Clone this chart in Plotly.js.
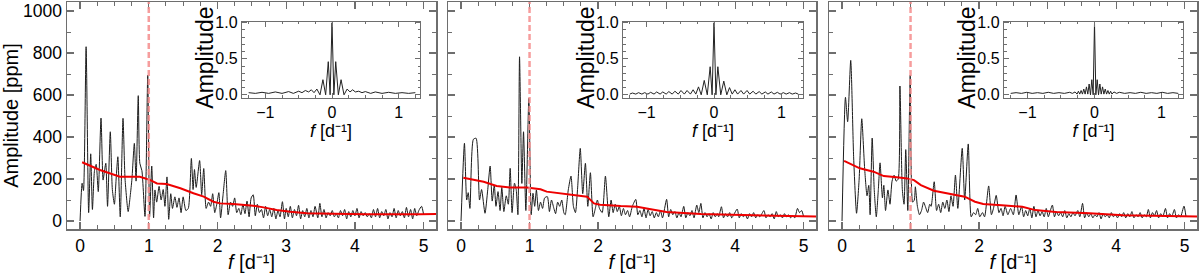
<!DOCTYPE html>
<html>
<head>
<meta charset="utf-8">
<script src="https://cdn.plot.ly/plotly-3.0.1.min.js"></script>
<style>
html,body{margin:0;padding:0;background:#fff;}
#chart{width:1200px;height:276px;}
</style>
</head>
<body>
<div id="chart"></div>
<script>
// ---------- Panel 1 : amplitude spectrum ----------
const p1_freq = [0.00,0.03,0.05,0.088,0.125,0.155,0.18,0.21,0.235,0.265,0.305,0.335,0.36,0.375,0.40,0.44,0.47,0.50,0.525,0.55,0.585,0.625,0.655,0.70,0.73,0.755,0.79,0.815,0.847,0.87,0.90,0.945,0.985,1.012,1.043,1.07,1.09,1.115,1.15,1.18,1.21,1.235,1.265,1.29,1.32,1.345,1.38,1.41,1.44,1.47,1.50,1.54,1.575,1.62,1.645,1.665,1.69,1.74,1.77,1.80,1.835,1.87,1.90,1.93,1.96,1.99,2.02,2.045,2.08,2.12,2.155,2.19,2.22,2.25,2.28,2.31,2.34,2.37,2.40,2.43,2.46,2.49,2.52,2.55,2.58,2.61,2.64,2.67,2.70,2.73,2.76,2.79,2.82,2.85,2.88,2.91,2.945,2.975,3.00,3.03,3.06,3.09,3.12,3.15,3.18,3.21,3.24,3.27,3.30,3.33,3.36,3.39,3.42,3.46,3.49,3.52,3.55,3.58,3.61,3.64,3.67,3.70,3.73,3.76,3.79,3.82,3.85,3.88,3.91,3.94,3.97,4.00,4.03,4.06,4.09,4.12,4.15,4.18,4.21,4.24,4.27,4.30,4.33,4.36,4.39,4.42,4.45,4.48,4.51,4.54,4.57,4.60,4.63,4.66,4.69,4.72,4.75,4.78,4.81,4.84,4.87,4.90,4.93,4.97,5.00];
const p1_amp  = [0,180,145,830,40,320,55,240,270,140,490,195,250,275,70,425,150,80,200,306,20,489,200,45,120,200,370,190,597,275,240,22,695,20,262,15,148,90,165,100,150,70,210,8,130,60,115,65,110,40,115,50,60,298,150,245,160,288,125,250,60,90,70,130,40,80,135,15,120,240,30,90,70,110,40,60,30,80,35,95,20,110,125,25,80,40,55,15,70,25,55,20,60,10,50,20,92,10,60,20,70,15,55,25,75,10,50,20,60,15,50,20,70,15,84,20,55,15,40,25,50,20,35,15,50,25,55,10,45,20,50,25,60,15,45,25,40,20,35,15,55,20,60,15,45,25,55,10,40,20,60,15,50,25,45,15,65,20,55,10,60,25,50,70,30];
const p1_meanFreq = [0.03,0.29,0.58,0.87,1.00,1.12,1.26,1.46,1.65,1.80,1.94,2.04,2.23,2.52,2.67,2.86,3.06,3.30,3.69,4.17,4.95,5.20];
const p1_meanAmp  = [280,243,211,211,198,179,176,156,132,116,92,84,81,73,65,52,44,37,35,32,32,33];

// ---------- Panel 2 ----------
const p2_freq = [0.00,0.05,0.083,0.105,0.13,0.18,0.22,0.27,0.30,0.35,0.39,0.425,0.455,0.485,0.51,0.54,0.57,0.595,0.625,0.66,0.69,0.717,0.745,0.78,0.805,0.83,0.854,0.888,0.912,0.946,0.99,1.024,1.05,1.075,1.10,1.13,1.16,1.19,1.22,1.26,1.29,1.32,1.355,1.38,1.41,1.44,1.47,1.50,1.52,1.565,1.605,1.64,1.67,1.70,1.74,1.776,1.815,1.85,1.888,1.927,1.96,1.99,2.02,2.06,2.107,2.156,2.19,2.22,2.25,2.28,2.31,2.34,2.37,2.40,2.43,2.46,2.50,2.55,2.58,2.61,2.64,2.67,2.70,2.73,2.76,2.79,2.82,2.85,2.88,2.91,2.94,3.00,3.03,3.06,3.09,3.12,3.15,3.18,3.21,3.25,3.28,3.31,3.34,3.37,3.40,3.44,3.47,3.50,3.53,3.56,3.59,3.62,3.65,3.68,3.71,3.74,3.76,3.80,3.83,3.86,3.89,3.92,3.95,3.98,4.03,4.06,4.09,4.12,4.15,4.18,4.21,4.24,4.27,4.30,4.33,4.36,4.42,4.45,4.48,4.51,4.54,4.57,4.60,4.63,4.66,4.69,4.72,4.75,4.78,4.81,4.84,4.87,4.91,4.94,4.97,5.00];
const p2_amp  = [0,370,100,135,60,389,394,100,150,37,150,262,95,171,70,140,50,160,45,120,80,251,40,180,150,30,782,179,425,50,584,30,132,70,148,50,90,60,110,116,45,100,60,35,90,70,100,40,30,148,214,70,40,150,346,130,275,70,230,20,60,100,60,40,214,20,100,40,80,45,70,25,60,30,50,20,70,103,30,50,20,60,15,55,25,45,15,40,20,50,15,103,20,55,30,45,15,40,20,70,15,40,25,50,15,76,40,84,15,40,20,35,10,40,20,35,20,68,15,35,20,40,15,30,57,15,35,20,30,10,35,20,40,15,30,20,50,15,30,20,35,10,45,20,30,15,35,20,30,15,25,15,60,40,50,20];
const p2_meanFreq = [0.034,0.33,0.52,0.72,0.96,1.16,1.25,1.45,1.69,1.84,1.94,2.03,2.33,2.57,2.77,3.00,3.50,4.00,4.47,5.20];
const p2_meanAmp  = [206,187,167,160,160,151,140,132,124,116,84,78,71,68,56,43,33,30,27,21];

// ---------- Panel 3 ----------
const p3_freq = [0.00,0.05,0.082,0.127,0.17,0.212,0.25,0.288,0.33,0.365,0.39,0.41,0.44,0.47,0.50,0.53,0.555,0.59,0.61,0.635,0.67,0.70,0.73,0.76,0.79,0.82,0.845,0.88,0.905,0.93,0.96,0.995,1.03,1.055,1.07,1.10,1.13,1.16,1.19,1.215,1.25,1.28,1.30,1.345,1.38,1.41,1.44,1.47,1.50,1.53,1.56,1.59,1.62,1.655,1.69,1.754,1.79,1.842,1.885,1.92,1.95,1.98,2.01,2.05,2.08,2.14,2.18,2.21,2.25,2.29,2.32,2.35,2.38,2.42,2.46,2.50,2.54,2.58,2.62,2.65,2.68,2.71,2.74,2.77,2.80,2.83,2.86,2.89,2.92,2.95,2.98,3.01,3.04,3.07,3.10,3.13,3.16,3.19,3.22,3.25,3.28,3.31,3.34,3.37,3.40,3.44,3.47,3.51,3.54,3.57,3.60,3.63,3.66,3.69,3.72,3.75,3.78,3.81,3.84,3.87,3.90,3.93,3.96,3.99,4.02,4.05,4.08,4.11,4.14,4.17,4.20,4.23,4.26,4.29,4.32,4.35,4.38,4.41,4.44,4.47,4.50,4.53,4.56,4.59,4.62,4.65,4.68,4.72,4.75,4.78,4.81,4.85,4.88,4.91,4.94,4.99,5.02];
const p3_amp  = [0,589,473,765,300,37,200,487,250,120,170,30,395,150,20,150,277,110,170,50,148,80,190,218,190,200,643,150,80,340,50,695,90,100,163,70,30,50,90,70,40,80,70,187,50,80,40,90,60,100,45,120,70,219,60,346,100,367,20,40,30,60,20,40,20,167,30,60,122,40,60,25,70,30,60,30,124,30,70,20,50,25,60,15,70,20,50,25,45,20,60,20,50,76,20,45,25,40,20,50,15,35,20,40,25,50,20,84,15,40,20,35,15,30,20,40,10,35,20,30,15,40,20,30,15,35,20,40,15,35,20,45,15,30,20,40,15,30,20,55,15,40,25,50,15,35,20,60,15,35,20,55,15,30,20,71,20];
const p3_meanFreq = [0.03,0.26,0.46,0.61,0.80,0.95,1.05,1.15,1.34,1.54,1.79,1.94,2.06,2.33,2.63,2.82,3.12,3.61,4.10,5.20];
const p3_meanAmp  = [286,251,235,214,208,203,195,171,144,132,116,92,81,75,68,52,43,37,27,21];

// ---------- Insets : spectral windows ----------
const w1_freq = [-1.25,-1.15,-1.05,-0.95,-0.85,-0.75,-0.65,-0.58,-0.50,-0.45,-0.40,-0.35,-0.31,-0.27,-0.227,-0.18,-0.136,-0.095,-0.056,-0.028,0,0.028,0.056,0.095,0.136,0.18,0.227,0.27,0.31,0.35,0.40,0.45,0.50,0.58,0.65,0.75,0.85,0.95,1.05,1.15,1.25];
const w1_amp  = [0.03,0.02,0.035,0.02,0.04,0.02,0.045,0.02,0.05,0.03,0.06,0.04,0.07,0.03,0.08,0.0,0.21,0.0,0.46,0.0,1.0,0.0,0.46,0.0,0.21,0.0,0.08,0.04,0.07,0.04,0.05,0.03,0.045,0.02,0.04,0.02,0.035,0.02,0.03,0.02,0.03];
const w2_freq = [-1.25,-1.21,-1.16,-1.12,-1.07,-1.03,-0.98,-0.94,-0.89,-0.85,-0.80,-0.76,-0.71,-0.67,-0.62,-0.58,-0.53,-0.49,-0.44,-0.40,-0.35,-0.31,-0.27,-0.23,-0.19,-0.145,-0.10,-0.057,-0.028,0,0.028,0.057,0.10,0.145,0.19,0.23,0.27,0.31,0.35,0.40,0.44,0.49,0.53,0.58,0.62,0.67,0.71,0.76,0.80,0.85,0.89,0.94,0.98,1.03,1.07,1.12,1.16,1.21,1.25];
const w2_amp  = [0.01,0.025,0.01,0.03,0.01,0.03,0.01,0.035,0.01,0.04,0.01,0.04,0.01,0.045,0.01,0.05,0.01,0.06,0.01,0.06,0.01,0.07,0.01,0.11,0.0,0.20,0.0,0.39,0.0,1.0,0.0,0.39,0.0,0.19,0.0,0.10,0.01,0.07,0.01,0.06,0.01,0.06,0.01,0.05,0.01,0.045,0.01,0.04,0.01,0.04,0.01,0.035,0.01,0.03,0.01,0.03,0.01,0.025,0.01];
const w3_freq = [-1.25,-1.17,-1.09,-1.01,-0.93,-0.85,-0.77,-0.69,-0.61,-0.53,-0.45,-0.37,-0.33,-0.29,-0.26,-0.24,-0.22,-0.20,-0.18,-0.16,-0.14,-0.12,-0.10,-0.08,-0.06,-0.04,-0.02,0,0.02,0.04,0.06,0.08,0.10,0.12,0.14,0.16,0.18,0.20,0.22,0.24,0.26,0.29,0.33,0.37,0.45,0.53,0.61,0.69,0.77,0.85,0.93,1.01,1.09,1.17,1.25];
const w3_amp  = [0.02,0.03,0.02,0.035,0.02,0.03,0.02,0.035,0.02,0.03,0.02,0.035,0.02,0.04,0.01,0.05,0.01,0.06,0.01,0.08,0.01,0.11,0.01,0.15,0.0,0.21,0.0,1.0,0.0,0.21,0.0,0.15,0.01,0.11,0.01,0.08,0.01,0.06,0.01,0.05,0.01,0.04,0.02,0.035,0.02,0.03,0.02,0.035,0.02,0.03,0.02,0.035,0.02,0.03,0.02];

// Frequency marked by the dashed line
const markFreq = 1;

// Axis ticks / labels
const mainXTicks = [0,1,2,3,4,5];
const mainYTicks = [0,200,400,600,800,1000];
const insetXTicks = [-1,0,1];
const insetYTicks = [0,0.5,1];
const insetYText = ['0.0','0.5','1.0'];

const FONT = 'Liberation Sans, Arial, Helvetica, sans-serif';
const FRAME = '#6e6e6e';
const specLine = {color:'#1c1c1c', width:1, shape:'spline', smoothing:0.6};
const meanLine = {color:'#ee0000', width:2};
const winLine = {color:'#222', width:1, shape:'linear'};

const data = [
  {x:p1_freq, y:p1_amp, xaxis:'x', yaxis:'y', mode:'lines', line:specLine, hoverinfo:'skip'},
  {x:p1_meanFreq, y:p1_meanAmp, xaxis:'x', yaxis:'y', mode:'lines', line:meanLine, hoverinfo:'skip'},
  {x:p2_freq, y:p2_amp, xaxis:'x2', yaxis:'y2', mode:'lines', line:specLine, hoverinfo:'skip'},
  {x:p2_meanFreq, y:p2_meanAmp, xaxis:'x2', yaxis:'y2', mode:'lines', line:meanLine, hoverinfo:'skip'},
  {x:p3_freq, y:p3_amp, xaxis:'x3', yaxis:'y3', mode:'lines', line:specLine, hoverinfo:'skip'},
  {x:p3_meanFreq, y:p3_meanAmp, xaxis:'x3', yaxis:'y3', mode:'lines', line:meanLine, hoverinfo:'skip'},
  {x:w1_freq, y:w1_amp, xaxis:'x4', yaxis:'y4', mode:'lines', line:winLine, hoverinfo:'skip'},
  {x:w2_freq, y:w2_amp, xaxis:'x5', yaxis:'y5', mode:'lines', line:winLine, hoverinfo:'skip'},
  {x:w3_freq, y:w3_amp, xaxis:'x6', yaxis:'y6', mode:'lines', line:winLine, hoverinfo:'skip'}
];

const W = 1200, H = 276;
const mainX = [[67,436],[448,816],[829,1197]];
const insetX = [[242,420],[623,803],[1004,1183]];
const mainY = [(H-229)/H, (H-2)/H];
const insetY = [(H-97.7)/H, (H-21.7)/H];

// superscript written with Unicode characters (no zero-width helper spans)
const fTitle = '<i>f</i> [d\u207B\u00B9]';

function mainXAxis(i, yname){
  return {
    domain:[mainX[i][0]/W, mainX[i][1]/W], anchor:yname,
    range:[-0.19,5.18], tickvals:mainXTicks, ticks:'inside', ticklen:7, tickwidth:1.2, tickcolor:FRAME,
    minor:{dtick:0.25, ticks:'inside', ticklen:4, tickwidth:1, tickcolor:FRAME},
    showline:true, linecolor:FRAME, linewidth:1.5, mirror:'ticks',
    showgrid:false, zeroline:false,
    tickfont:{family:FONT, size:17.5, color:'#000'},
    title:{text:fTitle, font:{family:FONT, size:20, color:'#000'}, standoff:0}
  };
}
function mainYAxis(i, xname, labels){
  const ax = {
    domain:mainY, anchor:xname,
    range:[-38,1043], tickvals:mainYTicks, ticks:'inside', ticklen:7, tickwidth:1.2, tickcolor:FRAME,
    minor:{dtick:100, ticks:'inside', ticklen:4, tickwidth:1, tickcolor:FRAME},
    showline:true, linecolor:FRAME, linewidth:1.5, mirror:'ticks',
    showgrid:false, zeroline:false, showticklabels:labels,
    tickfont:{family:FONT, size:17.5, color:'#000'}
  };
  if (labels) ax.title = {text:'Amplitude [ppm]', font:{family:FONT, size:20, color:'#000'}, standoff:2};
  return ax;
}
function insetXAxis(i, yname){
  return {
    domain:[insetX[i][0]/W, insetX[i][1]/W], anchor:yname,
    range:[-1.35,1.32], tickvals:insetXTicks, ticks:'inside', ticklen:5, tickwidth:1, tickcolor:FRAME,
    minor:{dtick:0.25, ticks:'inside', ticklen:2.5, tickwidth:1, tickcolor:FRAME},
    showline:true, linecolor:FRAME, linewidth:1.2, mirror:'ticks',
    showgrid:false, zeroline:false,
    tickfont:{family:FONT, size:16, color:'#000'},
    title:{text:fTitle, font:{family:FONT, size:18, color:'#000'}, standoff:0}
  };
}
function insetYAxis(i, xname){
  return {
    domain:insetY, anchor:xname,
    range:[-0.04,1.015], tickvals:insetYTicks, ticktext:insetYText, ticks:'inside', ticklen:5, tickwidth:1, tickcolor:FRAME,
    minor:{dtick:0.1, ticks:'inside', ticklen:2.5, tickwidth:1, tickcolor:FRAME},
    showline:true, linecolor:FRAME, linewidth:1.2, mirror:'ticks',
    showgrid:false, zeroline:false,
    tickfont:{family:FONT, size:16, color:'#000'}
  };
}

const shapes = ['x','x2','x3'].map(function(xr, i){
  return {type:'line', xref:xr, yref:(i===0?'y':'y'+(i+1))+' domain', x0:markFreq, x1:markFreq, y0:0, y1:1,
          line:{color:'rgba(245,140,140,0.85)', width:2.5, dash:'6px,3px'}, layer:'above'};
});

// Inset y-axis titles placed as annotations so they can sit close to the tick labels
const annotations = ['x4','x5','x6'].map(function(xr, i){
  return {text:'Amplitude', xref:xr+' domain', yref:'y'+(i+4)+' domain', x:0, y:0.5,
          xanchor:'center', yanchor:'middle', xshift:-37, yshift:2, textangle:-90, showarrow:false,
          font:{family:FONT, size:23, color:'#000'}};
});

const layout = {
  width:W, height:H, margin:{l:0,r:0,t:0,b:0},
  paper_bgcolor:'#fff', plot_bgcolor:'rgba(0,0,0,0)',
  showlegend:false,
  font:{family:FONT, color:'#000'},
  xaxis:mainXAxis(0,'y'), yaxis:mainYAxis(0,'x',true),
  xaxis2:mainXAxis(1,'y2'), yaxis2:mainYAxis(1,'x2',false),
  xaxis3:mainXAxis(2,'y3'), yaxis3:mainYAxis(2,'x3',false),
  xaxis4:insetXAxis(0,'y4'), yaxis4:insetYAxis(0,'x4'),
  xaxis5:insetXAxis(1,'y5'), yaxis5:insetYAxis(1,'x5'),
  xaxis6:insetXAxis(2,'y6'), yaxis6:insetYAxis(2,'x6'),
  shapes:shapes, annotations:annotations
};

Plotly.newPlot('chart', data, layout, {staticPlot:true, displayModeBar:false});
</script>
</body>
</html>
